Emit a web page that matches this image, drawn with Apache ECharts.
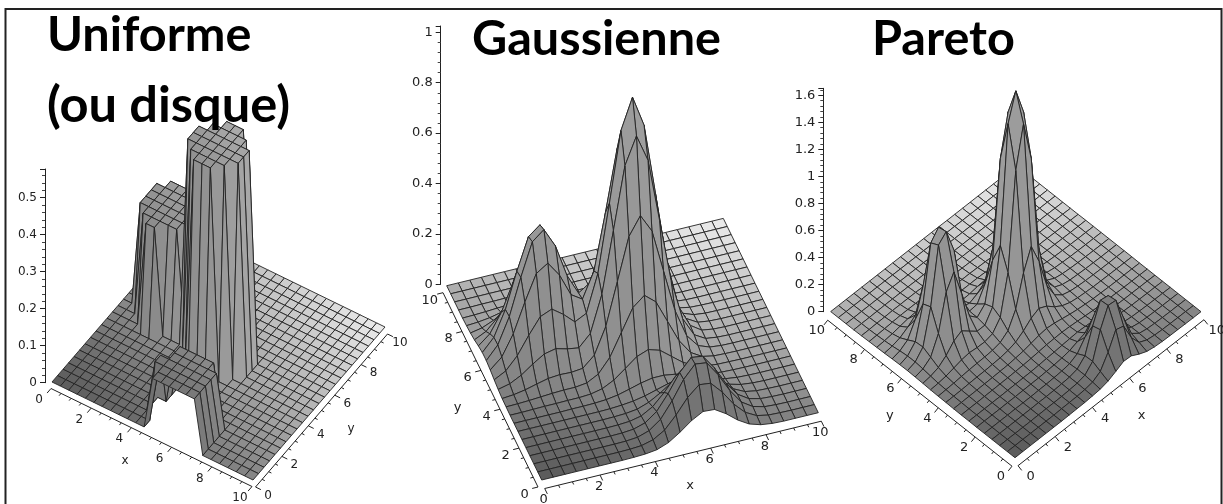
<!DOCTYPE html>
<html><head><meta charset="utf-8">
<style>html,body{margin:0;padding:0;background:#fff}#c{width:1223px;height:504px}</style>
<script src="https://cdn.jsdelivr.net/npm/echarts@6/dist/echarts.min.js"></script>
</head><body><div id="c"></div>
<script>
// surface heights on a 25 x 25 mesh: rows = y index, columns = x index (0..10 in 24 steps)
const a=.567,b=.283,c=.142;
const uniformZ=[
[0,0,0,0,0,0,0,0,0,0,0,0,c,c,c,c,c,c,0,0,0,0,0,0,0],
[0,0,0,0,0,0,0,0,0,0,0,0,c,c,c,c,c,c,0,0,0,0,0,0,0],
[0,0,0,0,0,0,0,0,0,0,0,c,c,c,c,c,c,c,0,0,0,0,0,0,0],
[0,0,0,0,0,0,0,0,0,0,0,c,c,c,c,c,c,c,0,0,0,0,0,0,0],
[0,0,0,0,0,0,0,0,0,0,0,0,c,c,c,c,c,c,0,0,0,0,0,0,0],
[0,0,0,0,0,0,0,0,0,0,0,0,c,c,c,c,c,0,0,0,0,0,0,0,0],
[0,0,0,0,0,0,0,0,0,0,0,0,0,0,0,0,0,0,0,0,0,0,0,0,0],
[0,0,0,0,0,0,0,0,0,0,0,0,0,0,0,0,0,0,0,0,0,0,0,0,0],
[0,0,0,0,0,0,0,0,0,0,0,0,0,0,0,0,0,0,0,0,0,0,0,0,0],
[0,0,0,0,0,0,0,0,0,0,0,a,a,a,0,0,0,0,0,0,0,0,0,0,0],
[0,0,0,0,0,0,0,0,0,0,a,a,a,a,a,0,0,0,0,0,0,0,0,0,0],
[0,0,0,0,b,b,0,0,0,a,a,a,a,a,a,a,0,0,0,0,0,0,0,0,0],
[0,0,0,b,b,b,b,b,0,a,a,a,a,a,a,a,0,0,0,0,0,0,0,0,0],
[0,0,b,b,b,b,b,b,b,a,a,a,a,a,a,a,0,0,0,0,0,0,0,0,0],
[0,0,b,b,b,b,b,b,b,0,a,a,a,a,a,0,0,0,0,0,0,0,0,0,0],
[0,0,b,b,b,b,b,b,b,0,0,a,a,a,0,0,0,0,0,0,0,0,0,0,0],
[0,0,b,b,b,b,b,b,0,0,0,0,0,0,0,0,0,0,0,0,0,0,0,0,0],
[0,0,0,b,b,b,b,b,0,0,0,0,0,0,0,0,0,0,0,0,0,0,0,0,0],
[0,0,0,0,0,0,0,0,0,0,0,0,0,0,0,0,0,0,0,0,0,0,0,0,0],
[0,0,0,0,0,0,0,0,0,0,0,0,0,0,0,0,0,0,0,0,0,0,0,0,0],
[0,0,0,0,0,0,0,0,0,0,0,0,0,0,0,0,0,0,0,0,0,0,0,0,0],
[0,0,0,0,0,0,0,0,0,0,0,0,0,0,0,0,0,0,0,0,0,0,0,0,0],
[0,0,0,0,0,0,0,0,0,0,0,0,0,0,0,0,0,0,0,0,0,0,0,0,0],
[0,0,0,0,0,0,0,0,0,0,0,0,0,0,0,0,0,0,0,0,0,0,0,0,0],
[0,0,0,0,0,0,0,0,0,0,0,0,0,0,0,0,0,0,0,0,0,0,0,0,0]];
const gaussZ=[
[0,0,0,0,0,0,0,0,.001,.003,.009,.026,.056,.091,.116,.113,.085,.049,.022,.008,.002,0,0,0,0],
[0,0,0,0,0,0,0,0,.001,.004,.016,.043,.092,.150,.190,.185,.139,.080,.036,.012,.003,.001,0,0,0],
[0,0,0,0,0,0,0,0,.001,.005,.020,.054,.116,.190,.240,.234,.175,.102,.045,.016,.004,.001,0,0,0],
[0,0,0,0,0,0,0,0,.001,.005,.019,.053,.113,.185,.234,.228,.171,.099,.044,.015,.004,.001,0,0,0],
[0,0,0,0,0,0,0,0,.001,.004,.014,.040,.085,.139,.175,.171,.128,.074,.033,.011,.003,.001,0,0,0],
[0,0,0,0,0,0,0,0,.001,.003,.009,.025,.051,.082,.103,.099,.074,.043,.019,.007,.002,0,0,0,0],
[0,0,0,0,0,0,0,0,.001,.004,.009,.018,.031,.044,.051,.047,.034,.020,.009,.003,.001,0,0,0,0],
[0,0,0,0,0,.001,.001,.002,.005,.012,.024,.037,.046,.046,.039,.027,.016,.008,.003,.001,0,0,0,0,0],
[0,0,.001,.002,.002,.003,.003,.006,.016,.039,.074,.110,.127,.113,.078,.043,.019,.007,.002,.001,0,0,0,0,0],
[.001,.002,.004,.007,.010,.012,.012,.018,.042,.097,.184,.272,.310,.273,.185,.097,.039,.012,.003,.001,0,0,0,0,0],
[.002,.006,.014,.026,.037,.041,.039,.044,.085,.188,.354,.522,.594,.522,.353,.184,.074,.023,.006,.001,0,0,0,0,0],
[.006,.017,.040,.073,.102,.112,.100,.093,.139,.283,.525,.771,.878,.771,.522,.272,.109,.034,.008,.002,0,0,0,0,0],
[.012,.036,.085,.155,.218,.237,.205,.164,.187,.334,.601,.879,1.000,.878,.594,.310,.125,.039,.009,.002,0,0,0,0,0],
[.019,.059,.140,.254,.357,.387,.329,.240,.211,.311,.533,.773,.878,.771,.522,.272,.109,.034,.008,.002,0,0,0,0,0],
[.024,.075,.176,.321,.451,.488,.412,.284,.203,.233,.367,.525,.595,.522,.353,.184,.074,.023,.006,.001,0,0,0,0,0],
[.024,.073,.172,.313,.439,.475,.398,.266,.164,.144,.198,.275,.310,.272,.184,.096,.039,.012,.003,.001,0,0,0,0,0],
[.018,.055,.129,.235,.330,.357,.298,.196,.110,.075,.085,.112,.125,.109,.074,.039,.016,.005,.001,0,0,0,0,0,0],
[.010,.032,.075,.136,.191,.206,.172,.112,.059,.033,.029,.035,.039,.034,.023,.012,.005,.002,0,0,0,0,0,0,0],
[.005,.014,.033,.061,.085,.092,.077,.050,.026,.012,.008,.009,.009,.008,.006,.003,.001,0,0,0,0,0,0,0,0],
[.002,.005,.011,.021,.029,.032,.026,.017,.008,.004,.002,.002,.002,.002,.001,0,0,0,0,0,0,0,0,0,0],
[0,.001,.003,.006,.008,.008,.007,.005,.002,.001,0,0,0,0,0,0,0,0,0,0,0,0,0,0,0],
[0,0,.001,.001,.002,.002,.001,.001,0,0,0,0,0,0,0,0,0,0,0,0,0,0,0,0,0],
[0,0,0,0,0,0,0,0,0,0,0,0,0,0,0,0,0,0,0,0,0,0,0,0,0],
[0,0,0,0,0,0,0,0,0,0,0,0,0,0,0,0,0,0,0,0,0,0,0,0,0],
[0,0,0,0,0,0,0,0,0,0,0,0,0,0,0,0,0,0,0,0,0,0,0,0,0]];
const paretoZ=[
[0,0,0,0,0,0,0,.001,.002,.003,.007,.012,.026,.053,.082,.078,.046,.021,.010,.005,.003,.002,.001,0,0],
[0,0,0,0,0,0,0,.002,.003,.004,.009,.019,.053,.149,.271,.253,.123,.043,.016,.007,.003,.002,.001,.001,0],
[0,0,0,0,0,.001,.002,.002,.003,.006,.011,.025,.082,.271,.406,.399,.222,.064,.020,.008,.004,.002,.001,.001,0],
[0,0,0,0,.001,.001,.002,.002,.003,.007,.011,.025,.079,.254,.400,.389,.208,.061,.020,.008,.004,.002,.001,.001,0],
[0,0,0,0,.001,.001,.001,.003,.004,.007,.011,.020,.049,.125,.224,.210,.102,.039,.015,.007,.004,.002,.001,.001,0],
[0,.001,.001,.001,.002,.002,.003,.004,.005,.008,.011,.017,.027,.048,.068,.064,.040,.021,.011,.006,.003,.002,.001,.001,0],
[.001,.001,.001,.002,.002,.003,.004,.005,.006,.009,.013,.016,.021,.025,.029,.026,.019,.013,.008,.004,.002,.002,.001,.001,0],
[.001,.002,.002,.003,.004,.005,.006,.008,.010,.014,.019,.025,.027,.028,.025,.020,.014,.009,.007,.004,.003,.001,.001,.001,0],
[.002,.003,.004,.005,.006,.007,.009,.011,.017,.024,.036,.049,.056,.050,.038,.026,.017,.011,.006,.004,.002,.001,.001,.001,0],
[.004,.005,.006,.009,.011,.012,.015,.018,.027,.045,.082,.131,.159,.131,.081,.044,.023,.013,.008,.004,.003,.002,.001,.001,.001],
[.005,.008,.011,.016,.020,.023,.025,.029,.042,.084,.197,.420,.572,.418,.195,.080,.034,.017,.009,.005,.003,.002,.001,.001,.001],
[.007,.011,.019,.033,.048,.056,.049,.047,.062,.137,.423,1.133,1.432,1.13,.418,.129,.047,.021,.010,.006,.003,.002,.001,.001,.001],
[.010,.018,.037,.080,.143,.173,.126,.080,.080,.169,.578,1.434,1.632,1.431,.572,.157,.053,.022,.011,.006,.003,.002,.001,.001,.001],
[.012,.027,.068,.198,.458,.563,.358,.149,.092,.147,.426,1.134,1.432,1.131,.419,.129,.047,.021,.010,.006,.003,.002,.001,.001,.001],
[.014,.033,.098,.350,.762,.816,.634,.226,.094,.101,.204,.423,.574,.420,.195,.080,.034,.017,.009,.005,.003,.002,.001,.001,.001],
[.013,.032,.093,.327,.733,.804,.602,.208,.080,.063,.088,.134,.160,.130,.080,.042,.022,.012,.007,.004,.003,.002,.001,.001,.001],
[.011,.025,.061,.168,.372,.458,.290,.116,.055,.039,.042,.051,.055,.048,.035,.022,.014,.008,.005,.003,.002,.001,.001,.001,0],
[.008,.016,.032,.065,.110,.131,.096,.056,.032,.024,.024,.024,.024,.022,.017,.012,.008,.006,.004,.003,.002,.001,.001,.001,0],
[.006,.010,.017,.027,.037,.041,.035,.026,.018,.015,.013,.013,.013,.011,.009,.007,.005,.004,.003,.002,.001,.001,.001,0,0],
[.004,.006,.009,.013,.016,.016,.016,.013,.010,.009,.008,.008,.007,.006,.005,.004,.003,.003,.002,.001,.001,.001,0,0,0],
[.002,.003,.005,.006,.008,.008,.008,.008,.006,.006,.005,.004,.004,.003,.003,.003,.002,.002,.001,.001,.001,0,0,0,0],
[.001,.002,.002,.003,.004,.004,.004,.004,.003,.003,.003,.003,.002,.002,.002,.002,.001,.001,.001,.001,0,0,0,0,0],
[.001,.001,.002,.002,.002,.003,.003,.002,.002,.002,.002,.002,.001,.001,.001,.001,.001,.001,0,0,0,0,0,0,0],
[.001,.001,.001,.001,.002,.002,.002,.002,.001,.001,.001,.001,.001,.001,.001,.001,0,0,0,0,0,0,0,0,0],
[.001,.001,.001,.001,.001,.001,.001,.001,.001,.001,.001,.001,.001,.001,.001,0,0,0,0,0,0,0,0,0,0]];
const xyTicks=[0,2,4,6,8,10];
const titles=[['Uniforme',47,11,48.6],['(ou disque)',47,80,50.6],['Gaussienne',472,15,48.6],['Pareto',872,15,48.6]];

const panels=[
 {z:uniformZ,axisX:45,top:169,bottom:382.7,zMax:.5776,step:.1,font:12,
  o:[52,382],ex:[20.1,9.8],ey:[13.2,-15.3],
  xOff:[-1,6.5],yOff:[2.5,7],xLab:[-13,18],yLab:[15,15.7],xName:[-27.5,30],yName:[32,25.5],xDir:[-.65,.76],yDir:[.9,.44],yAt:10},
 {z:gaussZ,axisX:440.7,top:26,bottom:284.3,zMax:1.025,step:.2,font:13,
  o:[541.7,480],ex:[27.66,-6.73],ey:[-9.5,-19.43],
  xOff:[3,8.5],yOff:[-3.7,7],xLab:[2,20],yLab:[-17,14.5],xName:[10,39.7],yName:[-36.5,24.7],xDir:[.44,.9],yDir:[-.97,.24],yAt:0},
 {z:paretoZ,axisX:823.3,top:88.3,bottom:311.7,zMax:1.651,step:.2,font:13,
  o:[1015,457.7],ex:[18.6,-14.6],ey:[-18.43,-14.6],
  xOff:[3,8],yOff:[-3,8.5],xLab:[15.7,19],yLab:[-14,19],xName:[33.7,31],yName:[-33,31],xDir:[.62,.78],yDir:[-.62,.78],yAt:0}
];
const N=24,H=10/N;
function shade(x,y){const g=Math.round(255*(.35+.017*x+.034*y+.0007*x*y));return 'rgb('+g+','+g+','+g+')';}
function projector(api,p){
  const y0=api.coord([0,0])[1];
  return (x,y,z)=>{
    const q=api.coord([0,z]);
    return [q[0]+p.o[0]-p.axisX+p.ex[0]*x+p.ey[0]*y, q[1]+p.o[1]-y0+p.ex[1]*x+p.ey[1]*y];
  };
}
const grid=[],xAxis=[],yAxis=[],series=[];
panels.forEach((p,k)=>{
  grid.push({left:p.axisX,top:p.top,width:1,height:p.bottom-p.top,containLabel:false});
  xAxis.push({gridIndex:k,type:'value',min:0,max:1,show:false});
  yAxis.push({gridIndex:k,type:'value',min:0,max:p.zMax,interval:p.step,position:'left',
    axisLine:{show:true,onZero:false,lineStyle:{color:'#222',width:1}},
    axisTick:{show:true,length:5,lineStyle:{color:'#222'}},
    minorTick:{show:true,splitNumber:5,length:3,lineStyle:{color:'#444'}},
    splitLine:{show:false},minorSplitLine:{show:false},
    axisLabel:{show:true,margin:8,color:'#222',fontFamily:'DejaVu Sans',fontSize:p.font,showMaxLabel:false}});
  const cells=[];
  for(let j=0;j<N;j++)for(let i=0;i<N;i++)cells.push([i,j]);
  cells.sort((u,v)=>(p.ex[1]*u[0]+p.ey[1]*u[1])-(p.ex[1]*v[0]+p.ey[1]*v[1]));
  series.push({type:'custom',coordinateSystem:'cartesian2d',xAxisIndex:k,yAxisIndex:k,clip:false,silent:true,animation:false,
    data:cells,encode:{x:[],y:[]},
    renderItem(params,api){
      const i=api.value(0),j=api.value(1),P=projector(api,p),Z=p.z;
      const pts=[P(i*H,j*H,Z[j][i]),P((i+1)*H,j*H,Z[j][i+1]),P((i+1)*H,(j+1)*H,Z[j+1][i+1]),P(i*H,(j+1)*H,Z[j+1][i])];
      return {type:'polygon',shape:{points:pts},style:{fill:shade((i+.5)*H,(j+.5)*H),stroke:'#222',lineWidth:.9,lineJoin:'round'}};
    }});
  series.push({type:'custom',coordinateSystem:'cartesian2d',xAxisIndex:k,yAxisIndex:k,clip:false,silent:true,animation:false,
    data:[[0,0]],encode:{x:[],y:[]},
    renderItem(params,api){
      const P=projector(api,p),ch=[];
      const add=(u,v)=>[u[0]+v[0],u[1]+v[1]];
      const line=(u,v)=>ch.push({type:'line',shape:{x1:u[0],y1:u[1],x2:v[0],y2:v[1]},style:{stroke:'#222',lineWidth:1}});
      const text=(s,q)=>ch.push({type:'text',style:{text:s,x:q[0],y:q[1],align:'center',verticalAlign:'middle',fill:'#222',font:p.font+'px "DejaVu Sans"'}});
      const yx=p.yAt;
      line(add(P(0,0,0),p.xOff),add(P(10,0,0),p.xOff));
      line(add(P(yx,0,0),p.yOff),add(P(yx,10,0),p.yOff));
      for(let t=0;t<=10;t+=.5){
        const major=xyTicks.indexOf(t)>=0,len=major?6:3;
        const u=add(P(t,0,0),p.xOff),v=add(P(yx,t,0),p.yOff);
        line(u,[u[0]+p.xDir[0]*len,u[1]+p.xDir[1]*len]);
        line(v,[v[0]+p.yDir[0]*len,v[1]+p.yDir[1]*len]);
      }
      xyTicks.forEach(t=>{text(String(t),add(P(t,0,0),p.xLab));text(String(t),add(P(yx,t,0),p.yLab));});
      text('x',add(P(5,0,0),p.xName));
      text('y',add(P(yx,5,0),p.yName));
      return {type:'group',children:ch};
    }});
});
const chart=echarts.init(document.getElementById('c'),null,{renderer:'canvas'});
chart.setOption({animation:false,backgroundColor:'#fff',grid,xAxis,yAxis,series,
  title:titles.map(t=>({text:t[0],left:t[1],top:t[2],padding:0,textStyle:{fontFamily:'Lato',fontWeight:'bold',fontSize:t[3],color:'#000'}})),
  graphic:[{type:'rect',shape:{x:5.5,y:9,width:1216,height:520},style:{fill:'none',stroke:'#222',lineWidth:2},z:0}]
});
</script></body></html>
